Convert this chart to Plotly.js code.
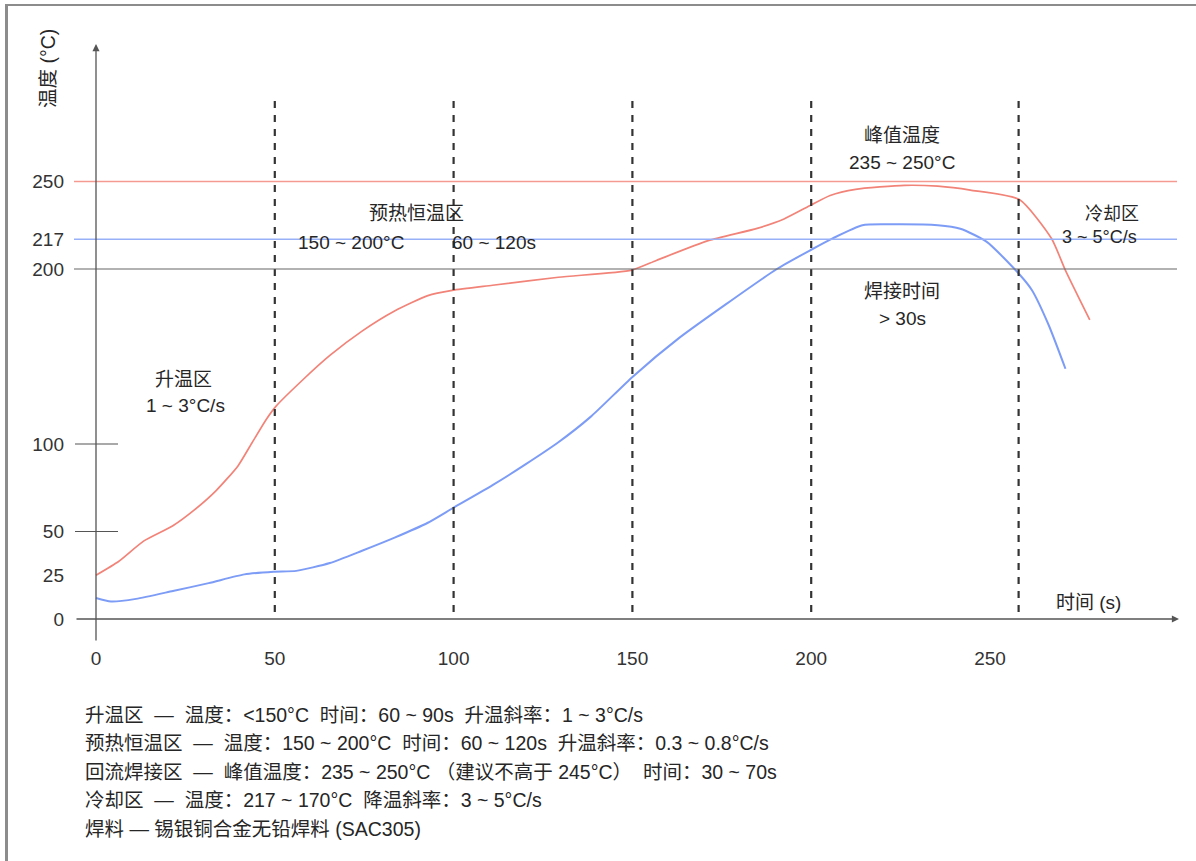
<!DOCTYPE html>
<html>
<head>
<meta charset="utf-8">
<script src="https://cdn.plot.ly/plotly-3.0.1.min.js"></script>
<style>
html,body{margin:0;padding:0;background:#fff;overflow:hidden;}
#chart{position:absolute;left:0;top:0;width:1196px;height:861px;}
#frame{position:absolute;left:5px;top:4px;width:1190px;height:855px;border-top:2px solid #8c8c8c;border-left:3px solid #8c8c8c;border-right:1px solid #f2f2f2;border-bottom:1px solid #f2f2f2;pointer-events:none;}
</style>
</head>
<body>
<div id="chart"></div>
<div id="frame"></div>
<script>
// ---- data ----
const timeRed = [0, 6.4, 13.3, 21.5, 27.6, 33.6, 39.7, 43.6, 47.6, 50.3, 58, 65.4, 74.4, 83.5, 92.8, 99.6, 110.9, 129.3, 149.8, 156.7, 171.2, 184.9, 192.4, 200, 205.3, 212.4, 226.1, 235.4, 244.5, 258.2, 267.2, 271.1, 277.9];
const tempRed = [25, 33, 44.5, 53.3, 62.5, 73.4, 87.5, 100.6, 114, 121.5, 137, 150.6, 164.5, 176, 184.8, 187.8, 190.7, 195.3, 199.4, 204.9, 216.2, 223.2, 228.6, 236.6, 242, 245.5, 247.8, 247.3, 245.1, 239.7, 217.4, 199.2, 170.9];
const timeBlue = [0, 4.2, 11.2, 21.5, 31.5, 41.5, 49.7, 56, 65.4, 74.4, 83.5, 92.8, 99.9, 110.9, 120.2, 129.3, 138.3, 150.1, 163, 175.9, 190.4, 200, 206, 214.3, 221.7, 235.4, 241.7, 249.1, 258.2, 261.7, 266.4, 271.1];
const tempBlue = [12, 10, 11.5, 16, 20.5, 25.5, 27, 27.5, 32, 39, 46.5, 55, 63.5, 76.5, 88.5, 101, 115.5, 138.5, 160.5, 179.5, 200, 211, 217.5, 225, 225.5, 225, 223, 215.5, 197, 188, 168, 143];
const xTicks = [0, 50, 100, 150, 200, 250];
const yTicks = [0, 25, 50, 100, 200, 217, 250];
const zoneBounds = [50, 100, 150, 200, 258];
const refTemps = [250, 217, 200];
const refColors = ['#f59a90', '#98b0f7', '#666666'];
const minorTickTemps = [50, 100];
const zoneLabels = [
  ['升温区', 183, 379, 19], ['1 ~ 3°C/s', 185, 406, 19],
  ['预热恒温区', 416, 214, 19], ['150 ~ 200°C', 351, 243, 19], ['60 ~ 120s', 494, 243, 19],
  ['峰值温度', 902, 135, 19], ['235 ~ 250°C', 902, 162, 19],
  ['焊接时间', 902, 291, 19], ['&gt; 30s', 902, 318, 19],
  ['冷却区', 1112, 214, 18], ['3 ~ 5°C/s', 1099, 237, 18]
];
const S = '\u00A0';
const notes = [
  '升温区' + S + ' — ' + S + '温度：&lt;150°C' + S + ' 时间：60 ~ 90s' + S + ' 升温斜率：1 ~ 3°C/s',
  '预热恒温区' + S + ' — ' + S + '温度：150 ~ 200°C' + S + ' 时间：60 ~ 120s' + S + ' 升温斜率：0.3 ~ 0.8°C/s',
  '回流焊接区' + S + ' — ' + S + '峰值温度：235 ~ 250°C （建议不高于 245°C）' + S + ' 时间：30 ~ 70s',
  '冷却区' + S + ' — ' + S + '温度：217 ~ 170°C' + S + ' 降温斜率：3 ~ 5°C/s',
  '焊料 — 锡银铜合金无铅焊料 (SAC305)'
];

// ---- geometry ----
const W = 1196, H = 861;
const L = 74, R = 16, T = 40, B = 216;
const X0PX = 96, Y0PX = 619, XPER = 3.576, YPER = 1.75;
const px = p => (p - X0PX) / XPER;          // pixel -> seconds (for shapes)
const py = p => (Y0PX - p) / YPER;          // pixel -> °C (for shapes)
const PW = W - L - R, PH = H - T - B;
const qx = p => (p - L) / PW;               // pixel -> paper
const qy = p => (H - B - p) / PH;

const FONT = 'Liberation Sans, Arial, Noto Sans CJK SC, sans-serif';
const TXT = '#262626';

const shapes = [];
zoneBounds.forEach(b => shapes.push({type:'line', xref:'x', yref:'y', x0:b, x1:b, y0:py(612), y1:py(97),
  line:{color:'#333333', width:2.2, dash:'7px,7px'}}));
refTemps.forEach((t, i) => shapes.push({type:'line', xref:'x', yref:'y', x0:px(73), x1:px(1177), y0:t, y1:t,
  line:{color:refColors[i], width:i === 2 ? 1.2 : 1.6}}));
minorTickTemps.forEach(t => shapes.push({type:'line', xref:'x', yref:'y', x0:px(75), x1:px(118), y0:t, y1:t,
  line:{color:'#555555', width:1.2}}));

const annotations = [];
// axes with arrowheads
annotations.push({x:0, y:py(44), ax:0, ay:py(642), xref:'x', yref:'y', axref:'x', ayref:'y', text:'',
  showarrow:true, arrowhead:2, arrowsize:1.1, arrowwidth:1.3, arrowcolor:'#555555', standoff:0});
annotations.push({x:px(1179), y:0, ax:px(75), ay:0, xref:'x', yref:'y', axref:'x', ayref:'y', text:'',
  showarrow:true, arrowhead:2, arrowsize:1.1, arrowwidth:1.3, arrowcolor:'#555555', standoff:0});
zoneLabels.forEach(([t, x, y, s]) => annotations.push({x:qx(x), y:qy(y), xref:'paper', yref:'paper', text:t, showarrow:false,
  xanchor:'center', yanchor:'middle', font:{family:FONT, size:s, color:TXT}}));
annotations.push({x:qx(1088), y:qy(602), xref:'paper', yref:'paper', text:'时间 (s)', showarrow:false,
  xanchor:'center', yanchor:'middle', font:{family:FONT, size:19, color:TXT}});
annotations.push({x:qx(48), y:qy(69), xref:'paper', yref:'paper', text:'温度 (°C)', showarrow:false, textangle:-90,
  xanchor:'center', yanchor:'middle', font:{family:FONT, size:19.5, color:TXT}});
notes.forEach((t, i) => annotations.push({x:qx(83), y:qy(715 + i * 28.4), xref:'paper', yref:'paper',
  text:t, showarrow:false, xanchor:'left', yanchor:'middle',
  font:{family:FONT, size:19.5, color:TXT}}));

const traces = [
  {x:timeRed, y:tempRed, type:'scatter', mode:'lines', line:{color:'#f28378', width:1.7, shape:'spline', smoothing:0.6}, hoverinfo:'skip'},
  {x:timeBlue, y:tempBlue, type:'scatter', mode:'lines', line:{color:'#7d9cf6', width:2, shape:'spline', smoothing:0.6}, hoverinfo:'skip'}
];

const layout = {
  width:W, height:H,
  margin:{l:L, r:R, t:T, b:B, pad:0},
  paper_bgcolor:'#ffffff', plot_bgcolor:'rgba(0,0,0,0)',
  showlegend:false,
  font:{family:FONT, size:19, color:TXT},
  xaxis:{range:[px(L), px(W - R)], tickvals:xTicks, ticktext:xTicks.map(String), showgrid:false, zeroline:false,
    showline:false, ticks:'', tickfont:{family:FONT, size:19, color:'#333333'}, fixedrange:true},
  yaxis:{range:[py(H - B), py(T)], tickvals:yTicks, ticktext:yTicks.map(String), showgrid:false, zeroline:false,
    showline:false, ticks:'', ticklabelstandoff:9, tickfont:{family:FONT, size:19, color:'#333333'}, fixedrange:true},
  shapes:shapes,
  annotations:annotations
};

Plotly.newPlot('chart', traces, layout, {staticPlot:true, displayModeBar:false});
</script>
</body>
</html>
